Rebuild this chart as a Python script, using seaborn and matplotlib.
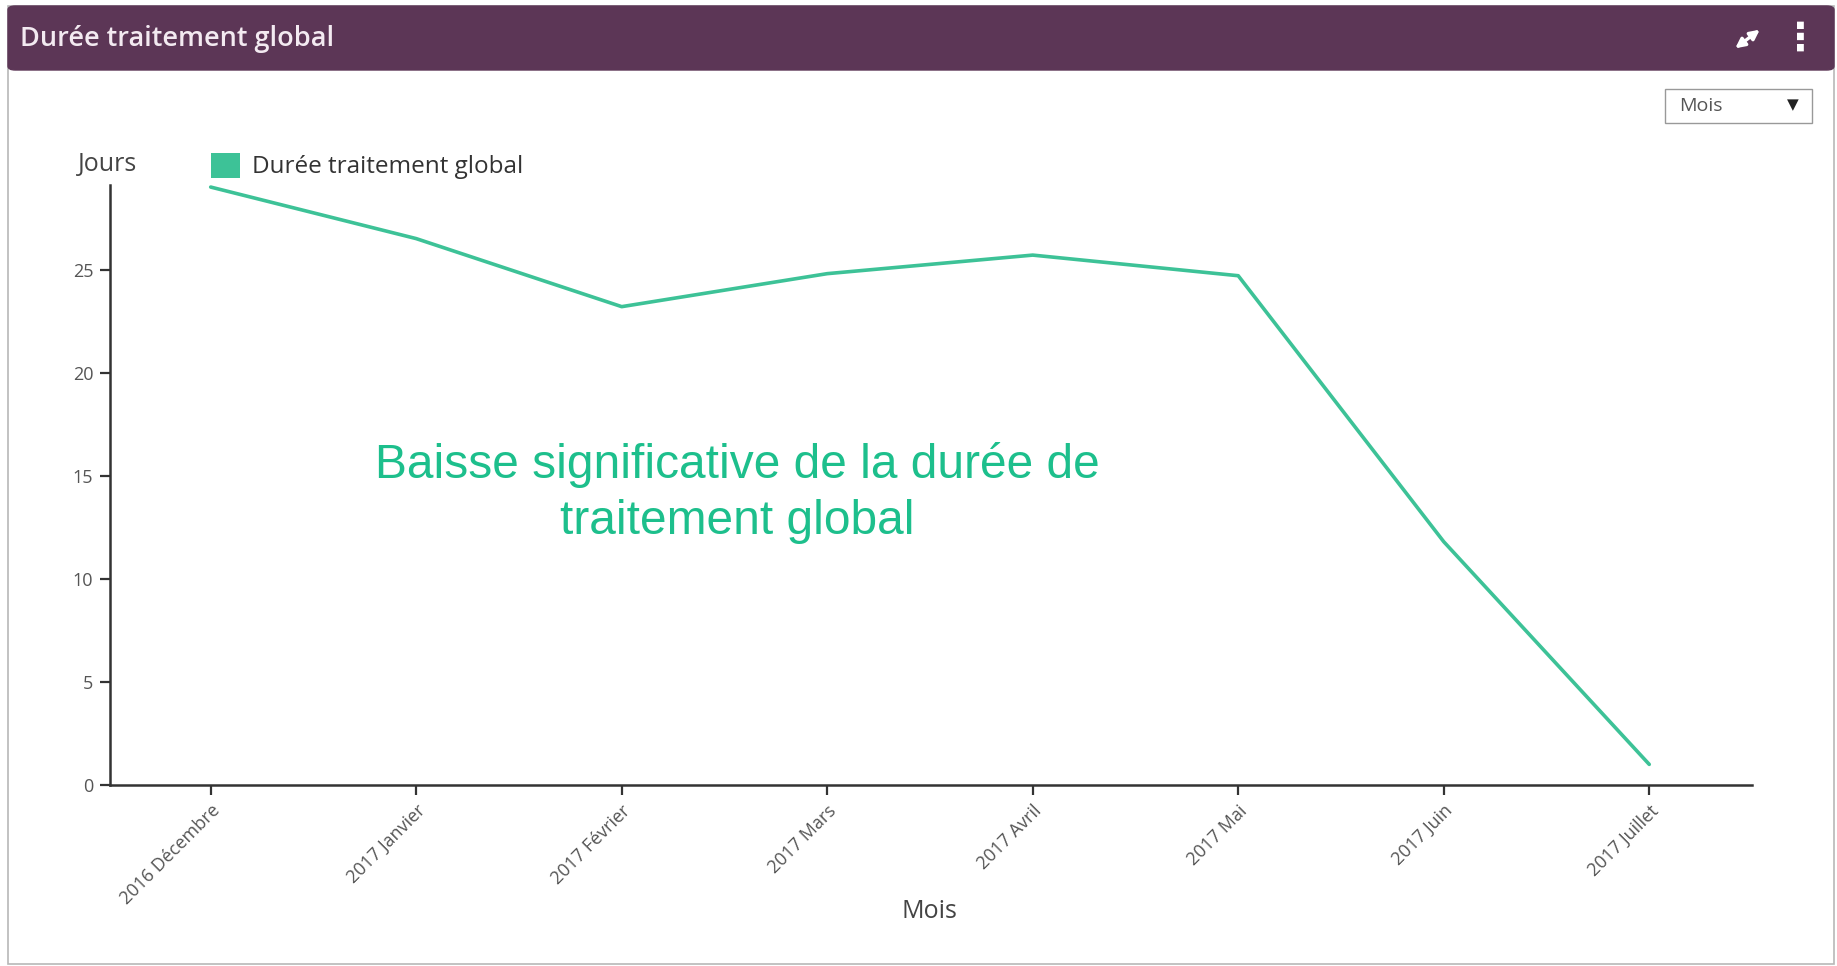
import pandas as pd
import seaborn as sns
import matplotlib.pyplot as plt
from matplotlib.patches import Rectangle, FancyBboxPatch, FancyArrowPatch

mois = ["2016 Décembre", "2017 Janvier", "2017 Février", "2017 Mars",
        "2017 Avril", "2017 Mai", "2017 Juin", "2017 Juillet"]
jours = [29.0, 26.5, 23.2, 24.8, 25.7, 24.7, 11.8, 1.0]
y_ticks = [0, 5, 10, 15, 20, 25]

GREEN = "#3dc297"
PURPLE = "#5c3656"
AXIS = "#333333"

sns.set_style("white")
plt.rcParams["font.family"] = ["Open Sans", "DejaVu Sans"]

df = pd.DataFrame({"Mois": mois, "Jours": jours})

W, H = 1837, 966
fig = plt.figure(figsize=(W / 100, H / 100), dpi=100)
fig.patch.set_facecolor("white")

# panel frame + header bar
fig.patches.append(Rectangle((8 / W, 2 / H), (1834 - 8) / W, (960 - 2) / H,
                             transform=fig.transFigure, fill=False,
                             edgecolor="#b8b8b8", lw=1.2))
fig.patches.append(FancyBboxPatch((8 / W, 1 - 70 / H), (1834 - 8) / W, 64 / H,
                                  boxstyle="round,pad=0,rounding_size=0.004",
                                  transform=fig.transFigure, facecolor=PURPLE,
                                  edgecolor=PURPLE))
fig.text(20 / W, 1 - 39 / H, "Durée traitement global", color="#f3eaf1",
         fontsize=19.5, fontweight="semibold", va="center", ha="left")
# header icons: vertical dots and expand arrows
fig.text(1800 / W, 1 - 39 / H, "⋮", color="white", fontsize=28,
         fontweight="bold", va="center", ha="center", family="DejaVu Sans")
fig.patches.append(FancyArrowPatch((1733 / W, 1 - 50 / H), (1762 / W, 1 - 28 / H),
                                   transform=fig.transFigure, arrowstyle="<|-|>",
                                   color="white", lw=2.4, mutation_scale=14))

# dropdown "Mois"
fig.patches.append(Rectangle((1665 / W, 1 - 123 / H), 147 / W, 34 / H,
                             transform=fig.transFigure, fill=False,
                             edgecolor="#999999", lw=1))
fig.text(1679 / W, 1 - 106 / H, "Mois", color="#555555", fontsize=14,
         va="center", ha="left")
fig.text(1793 / W, 1 - 105 / H, "▼", color="#222222", fontsize=11,
         va="center", ha="center", family="DejaVu Sans")

ax = fig.add_axes([110 / W, 1 - 785 / H, (1752 - 110) / W, (785 - 185) / H])
sns.lineplot(data=df, x="Mois", y="Jours", color=GREEN, lw=2.6, ax=ax,
             sort=False)

ax.set_xlim(-0.49, 7.5)
ax.set_ylim(0, 29.1)
ax.set_yticks(y_ticks)
ax.set_xticks(range(len(mois)))
ax.set_xticklabels(mois, rotation=45, ha="right", rotation_mode="anchor",
                   fontsize=13, color="#555555")
ax.tick_params(axis="y", labelsize=13, labelcolor="#555555")
ax.tick_params(axis="both", direction="out", length=7, width=1.6,
               color=AXIS, left=True, bottom=True, pad=5)
for side in ["top", "right"]:
    ax.spines[side].set_visible(False)
for side in ["left", "bottom"]:
    ax.spines[side].set_color(AXIS)
    ax.spines[side].set_linewidth(1.8)
ax.set_xlabel("")
ax.set_ylabel("")

fig.text(929 / W, 1 - 912 / H, "Mois", fontsize=18, color="#444444",
         ha="center", va="center")
fig.text(108 / W, 1 - 164 / H, "Jours", fontsize=18, color="#444444",
         ha="center", va="center")

# legend
fig.patches.append(Rectangle((211 / W, 1 - 178 / H), 29 / W, 25 / H,
                             transform=fig.transFigure, facecolor=GREEN,
                             edgecolor="none"))
fig.text(252 / W, 1 - 167 / H, "Durée traitement global", fontsize=17.5,
         color="#333333", ha="left", va="center")

# annotation
ax.text(0.382, 0.487, "Baisse significative de la durée de\ntraitement global",
        transform=ax.transAxes, fontsize=34.5, color="#1dbf8c", ha="center",
        va="center", family="Liberation Sans", linespacing=1.3)

fig.savefig("out.png", dpi=100)
